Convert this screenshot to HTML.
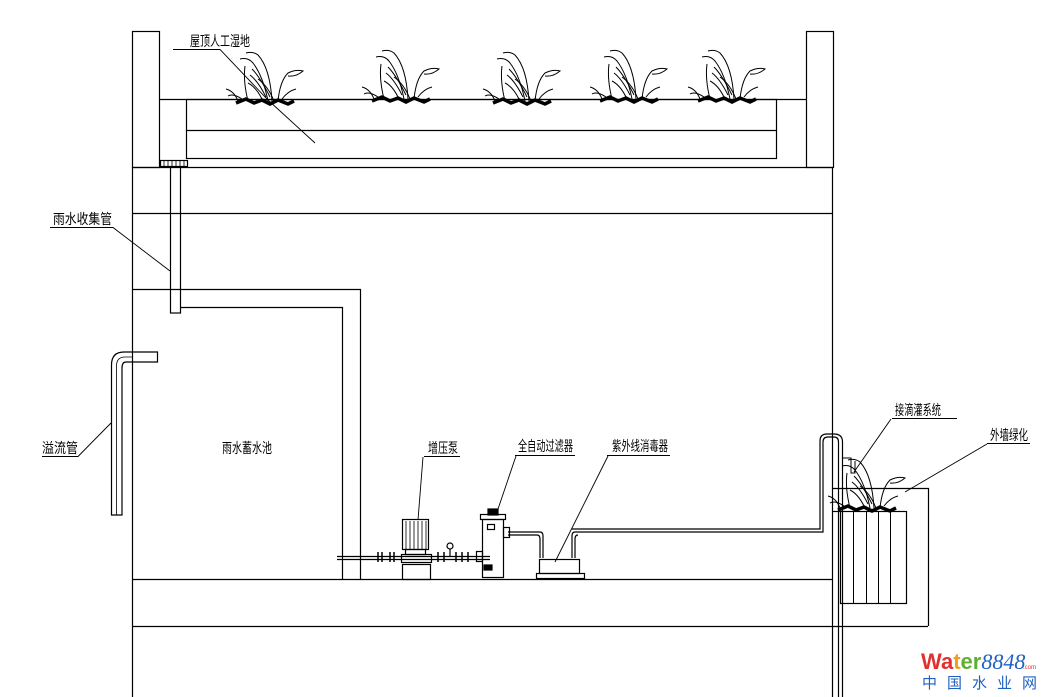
<!DOCTYPE html>
<html><head><meta charset="utf-8"><style>
html,body{margin:0;padding:0;background:#fff}
svg{display:block}
text{font-family:"Liberation Sans","Noto Sans CJK SC",sans-serif;font-size:14px;fill:#000}
</style></head><body>
<svg width="1050" height="697" viewBox="0 0 1050 697" xmlns="http://www.w3.org/2000/svg">
<defs>
<g id="plant" fill="none" stroke="#000" stroke-width="1">
<path d="M0 0 Q-5 -20 -3 -35"/><path d="M-10 0 Q-14 -10 -22 -12"/><path d="M-6 -2 Q-15 -8 -20 -5"/>
<path d="M20 0 Q15 -25 5 -38 Q0 -44 -8 -42"/><path d="M24 0 Q22 -33 10 -46 Q5 -50 -2 -48"/>
<path d="M30 0 Q32 -20 40 -28 Q48 -32 55 -30 Q48 -24 40 -25"/><path d="M26 0 Q20 -15 10 -22"/><path d="M34 -2 Q40 -10 48 -12"/>
<path d="M14 -2 Q8 -14 0 -18"/><path d="M18 -4 Q10 -20 2 -26"/><path d="M22 -4 Q12 -24 4 -32"/>
<path d="M-12 2 L-2 -2 L6 2 L14 -1 L22 3 L30 -1 L40 3 L46 0" stroke-width="3.5"/>
</g>
</defs>
<g fill="none" stroke="#000" stroke-width="1.2">
<rect x="132.5" y="31.5" width="27" height="136"/>
<rect x="806.5" y="31.5" width="27" height="136"/>
<line x1="160" y1="99.5" x2="806" y2="99.5"/>
<rect x="186.5" y="99.5" width="590" height="59"/>
<line x1="186" y1="130.5" x2="776" y2="130.5"/>
<line x1="132" y1="167.5" x2="833" y2="167.5"/>
<line x1="132" y1="213.5" x2="833" y2="213.5"/>
<line x1="132.5" y1="167" x2="132.5" y2="697"/>
<line x1="832.5" y1="167" x2="832.5" y2="697"/>
<rect x="160.5" y="160.5" width="27" height="6"/>
<path d="M164 161v6M168 161v6M172 161v6M176 161v6M180 161v6M184 161v6" stroke-width="0.8"/>
<rect x="170.5" y="167" width="10" height="146"/>
<path d="M132 289.5H360.5V579"/>
<path d="M180 307.5H342.5V579"/>
<path d="M111.5 515V365 Q111.5 352 124 352H157.5V362H126 Q122 362 122 368V515Z"/>
<path d="M116.5 515V366 Q116.5 357 125 357H132" stroke-width="0.8"/>
<line x1="132" y1="579.5" x2="832" y2="579.5"/>
<line x1="132" y1="626.5" x2="928" y2="626.5"/>
<path d="M832 488.5H928.5V626"/>
<rect x="840.5" y="511.5" width="66" height="92"/>
<path d="M853.5 512v92M866.5 512v92M878.5 512v92M890.5 512v92" stroke-width="1"/>
<line x1="832" y1="511.5" x2="841" y2="511.5"/>
<path d="M838.5 697V442 Q838.5 437 834 437H828 Q823 437 823 442V532H575"/>
<path d="M842.5 697V442 Q842.5 434 834 434H827 Q820 434 820 441V529H572"/>
<path d="M843 458H851V473H855V461" stroke-width="1"/>
<path d="M508 532H540 Q543 532 543 536V558"/>
<path d="M508 535H537 Q540 535 540 539V558"/>
<path d="M575 532 Q572 532 572 536V558M578 535 Q575 535 575 539V558"/>
<rect x="539.5" y="559.5" width="40" height="14"/>
<rect x="536.5" y="573.5" width="48" height="5"/>
<path d="M337 556.5H490M337 559.5H490"/>
<rect x="402.5" y="519.5" width="26" height="30"/>
<path d="M406 521v28M410 521v28M414 521v28M418 521v28M422 521v28M426 521v28" stroke-width="0.8"/>
<rect x="405.5" y="549.5" width="20" height="5"/>
<rect x="401.5" y="554.5" width="30" height="8"/>
<rect x="402.5" y="564.5" width="28" height="15"/>
<path d="M378 552v10M382 552v10M390 552v10M394 552v10M438 552v10M444 552v10M456 552v10M462 552v10M468 552v10" stroke-width="1.5"/>
<circle cx="450" cy="546" r="3"/><line x1="450" y1="549" x2="450" y2="556"/>
<rect x="480.5" y="514.5" width="25" height="5"/>
<rect x="482.5" y="519.5" width="21" height="58"/>
<rect x="488" y="509" width="10" height="6" fill="#000"/>
<rect x="487.5" y="524.5" width="7" height="5"/>
<rect x="503.5" y="527.5" width="6" height="10"/>
<rect x="476.5" y="551.5" width="6" height="10"/>
<rect x="484" y="565" width="8" height="5" fill="#000"/>
</g>
<use href="#plant" x="248" y="101"/>
<use href="#plant" x="384" y="99"/>
<use href="#plant" x="505" y="101"/>
<use href="#plant" x="612" y="99"/>
<use href="#plant" x="710" y="99"/>
<use href="#plant" x="850" y="508"/>
<g fill="none" stroke="#000" stroke-width="0.9">
<path d="M173 49.5H220L268 100L315 143"/>
<path d="M50 227.5H113L170 271"/>
<path d="M42 456.5H78L111 423"/>
<path d="M424 456.5H460M423 457L418 520"/>
<path d="M515 455.5H575M516 456L497 512"/>
<path d="M607 455.5H670M608 456L555 562"/>
<path d="M892 418.5H957M891 419L854 472"/>
<path d="M987 443.5H1030M987 444L905 492"/>
</g>
<text x="190" y="46" textLength="60" lengthAdjust="spacingAndGlyphs">屋顶人工湿地</text>
<text x="53" y="224" textLength="59" lengthAdjust="spacingAndGlyphs">雨水收集管</text>
<text x="42" y="453" textLength="36" lengthAdjust="spacingAndGlyphs">溢流管</text>
<text x="222" y="453" textLength="50" lengthAdjust="spacingAndGlyphs">雨水蓄水池</text>
<text x="428" y="453" textLength="30" lengthAdjust="spacingAndGlyphs">增压泵</text>
<text x="518" y="451" textLength="55" lengthAdjust="spacingAndGlyphs">全自动过滤器</text>
<text x="612" y="451" textLength="56" lengthAdjust="spacingAndGlyphs">紫外线消毒器</text>
<text x="895" y="415" textLength="46" lengthAdjust="spacingAndGlyphs">接滴灌系统</text>
<text x="990" y="440" textLength="38" lengthAdjust="spacingAndGlyphs">外墙绿化</text>
<text x="921" y="669" style="font-size:22px;font-weight:bold;font-family:'Liberation Sans',sans-serif"><tspan fill="#e03030">Wa</tspan><tspan fill="#f0a020">t</tspan><tspan fill="#60b030">er</tspan><tspan fill="#2060c0" style="font-style:italic;font-weight:normal;font-family:'Liberation Serif',serif">8848</tspan></text>
<text x="1023" y="669" style="font-size:6px;fill:#e03030">.com</text>
<text x="922" y="688" style="font-size:15px;fill:#2060c0;letter-spacing:10px">中国水业网</text>
</svg>
</body></html>
